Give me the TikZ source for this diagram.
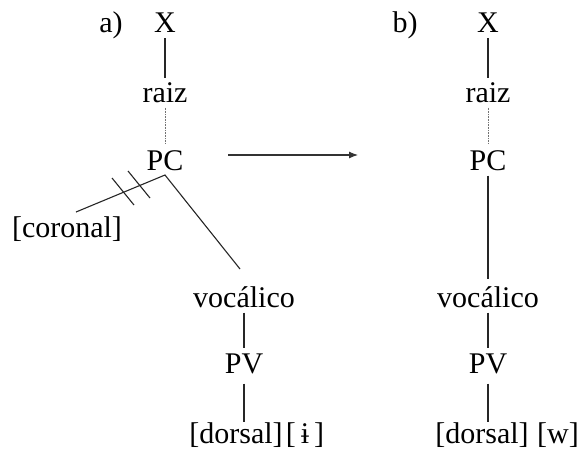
\documentclass[tikz,border=0pt]{standalone}
\usepackage{fontspec}
\setmainfont{Liberation Serif}
\usetikzlibrary{arrows.meta}
\begin{document}
\begin{tikzpicture}[x=1pt,y=-1pt,
  lab/.style={inner sep=0pt,anchor=base,font=\fontsize{30}{33}\selectfont},
  edge/.style={line width=1.1pt,black!85},
  dotedge/.style={line width=0.9pt,black!55,dash pattern=on 1pt off 0.6pt},
  tick/.style={line width=1.1pt,black!85}]
\useasboundingbox (0,0) rectangle (585,451);
% (a)
\node[lab] (la) at (111,32) {a)};
\node[lab] (Xa) at (165,32) {X};
\node[lab] (ra) at (165,102) {raiz};
\node[lab] (pca) at (165,170) {PC};
\coordinate (va) at (165,175);
\node[lab] (cor) at (67,237) {[coronal]};
\coordinate (corend) at (76,212);
\coordinate (vocend) at (240,269);
\node[lab] (voa) at (244,307) {vocálico};
\node[lab] (pva) at (244,373) {PV};
\node[lab] (doa) at (236,443) {[dorsal]};
\node[lab] (ia) at (305,443) {[\,ɨ\,]};
\draw[edge] ([yshift=-6]Xa.south) -- ([yshift=4]ra.north);
\draw[dotedge] ([yshift=-5]ra.south) -- ([yshift=6]pca.north);
\draw[edge] (corend) -- (va) -- (vocend);
\draw[edge] ([yshift=-5]voa.south) -- ([yshift=5]pva.north);
\draw[edge] ([yshift=-10]pva.south) -- ([yshift=0]doa.north -| pva.south);
\draw[tick] (112,178) -- (134,205);
\draw[tick] (128,171) -- (150,198);
% arrow
\coordinate (ar1) at (228,155);
\coordinate (ar2) at (358,155);
\draw[line width=1.1pt,black!80,-{Latex[length=9pt,width=7pt]}] (ar1) -- (ar2);
% (b)
\node[lab] (lb) at (405,32) {b)};
\node[lab] (Xb) at (488,32) {X};
\node[lab] (rb) at (488,102) {raiz};
\node[lab] (pcb) at (488,170) {PC};
\node[lab] (vob) at (488,307) {vocálico};
\node[lab] (pvb) at (488,373) {PV};
\node[lab] (dob) at (482,443) {[dorsal]};
\node[lab] (wb) at (558,443) {[w]};
\draw[edge] ([yshift=-6]Xb.south) -- ([yshift=4]rb.north);
\draw[dotedge] ([yshift=-5]rb.south) -- ([yshift=6]pcb.north);
\draw[edge] ([yshift=-5]pcb.south) -- ([yshift=7]vob.north);
\draw[edge] ([yshift=-5]vob.south) -- ([yshift=5]pvb.north);
\draw[edge] ([yshift=-10]pvb.south) -- ([yshift=0]dob.north -| pvb.south);
\end{tikzpicture}
\end{document}
